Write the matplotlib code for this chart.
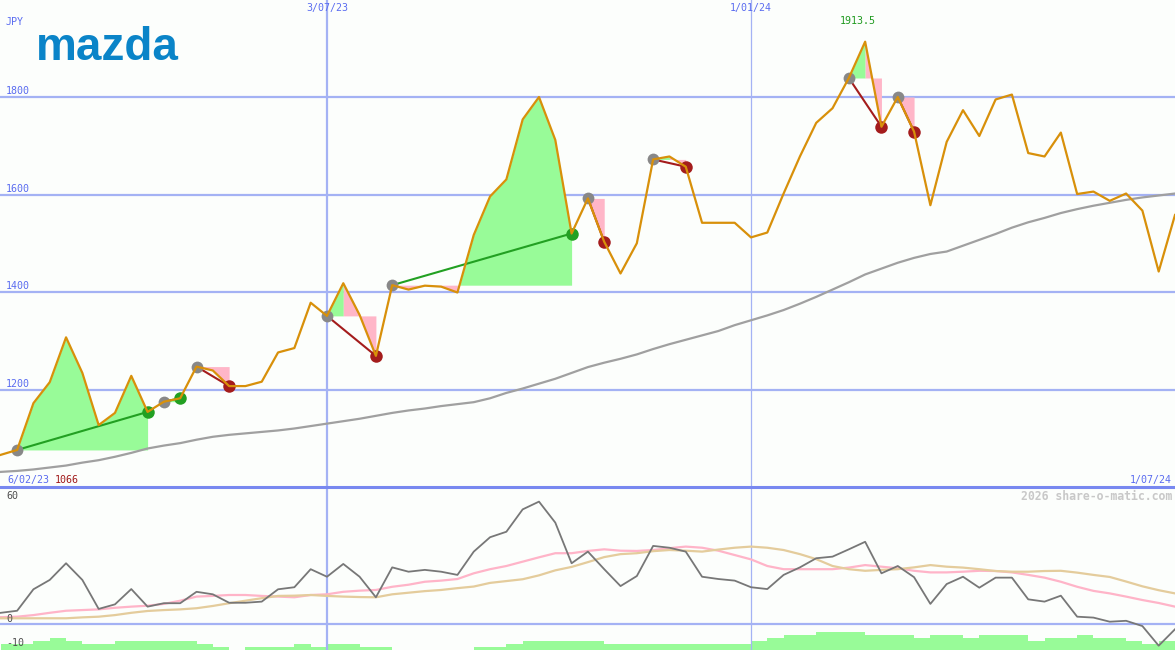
import numpy as np
import matplotlib
matplotlib.use('Agg')
import matplotlib.pyplot as plt
from matplotlib.lines import Line2D
from matplotlib.transforms import blended_transform_factory

# weekly close, JPY (6/02/23 .. 1/07/24)
price = [1066, 1076, 1172, 1215, 1307, 1234, 1127, 1152, 1228, 1154,
         1175, 1182, 1247, 1239, 1207, 1207, 1216, 1276, 1285, 1378,
         1351, 1418, 1353, 1269, 1414, 1405, 1413, 1411, 1399, 1517,
         1596, 1631, 1754, 1800, 1712, 1520, 1592, 1503, 1438, 1500,
         1672, 1678, 1657, 1542, 1542, 1542, 1512, 1522, 1602, 1678,
         1747, 1777, 1839, 1913.5, 1739, 1800, 1729, 1578, 1708, 1773,
         1720, 1795, 1805, 1685, 1678, 1727, 1601, 1606, 1587, 1602,
         1567, 1442, 1558]

# long moving average (grey line)
price_ma = [1031, 1033, 1036, 1040, 1044, 1050, 1055, 1062, 1070, 1079,
            1085, 1090, 1097, 1103, 1107, 1110, 1113, 1116, 1120, 1125,
            1130, 1135, 1140, 1146, 1152, 1157, 1161, 1166, 1170, 1174,
            1182, 1193, 1202, 1212, 1222, 1234, 1246, 1255, 1263, 1272,
            1283, 1293, 1302, 1311, 1320, 1332, 1342, 1352, 1363, 1376,
            1390, 1405, 1420, 1436, 1448, 1460, 1470, 1478, 1483, 1495,
            1507, 1519, 1532, 1543, 1552, 1562, 1570, 1577, 1583, 1589,
            1594, 1598, 1602]

# lower panel
osc = [4.9, 5.8, 15.2, 19.3, 26.6, 19.3, 6.6, 8.6, 15.3, 7.6,
       9.1, 9.1, 14.1, 13.0, 9.3, 9.3, 9.8, 15.2, 16.1, 24.0,
       20.7, 26.3, 20.7, 11.7, 24.8, 22.9, 23.7, 22.9, 21.5, 31.7,
       38.0, 40.4, 50.2, 53.6, 44.4, 26.6, 31.7, 24.0, 16.6, 21.0,
       34.2, 33.4, 31.7, 20.7, 19.7, 19.0, 16.1, 15.3, 21.5, 24.8,
       28.8, 29.5, 32.7, 36.0, 22.2, 25.4, 20.5, 8.8, 17.5, 20.7,
       15.9, 20.3, 20.3, 10.8, 9.8, 12.4, 3.2, 2.8, 1.0, 1.4,
       -0.9, -9.5, -2.3]
osc_fast = [3.0, 3.2, 3.9, 4.9, 5.8, 6.1, 6.4, 7.1, 7.6, 8.0,
            8.8, 10.2, 12.0, 12.3, 12.7, 12.7, 12.3, 12.0, 11.7, 12.7,
            13.0, 14.1, 14.6, 14.9, 16.3, 17.2, 18.5, 19.0, 19.7, 22.2,
            24.0, 25.4, 27.3, 29.2, 31.0, 31.0, 32.0, 32.7, 32.1, 32.0,
            32.4, 33.2, 33.9, 33.4, 32.1, 30.2, 28.3, 25.4, 24.0, 24.0,
            24.0, 24.0, 24.7, 25.8, 25.1, 24.4, 23.3, 22.6, 22.6, 22.9,
            23.3, 23.2, 22.6, 21.5, 20.3, 18.5, 16.3, 14.5, 13.4, 12.0,
            10.5, 9.2, 7.6]
osc_slow = [2.5, 2.5, 2.5, 2.5, 2.5, 2.9, 3.2, 3.9, 4.9, 5.7,
            6.1, 6.4, 6.9, 7.9, 9.1, 10.2, 11.3, 12.3, 12.4, 12.7,
            12.3, 12.0, 11.8, 11.7, 13.0, 13.7, 14.4, 14.9, 15.7, 16.4,
            18.0, 18.8, 19.6, 21.3, 23.5, 25.0, 27.1, 29.3, 30.6, 31.0,
            31.9, 32.4, 32.1, 31.7, 32.6, 33.4, 33.9, 33.4, 32.4, 30.6,
            28.4, 25.4, 24.0, 23.3, 23.7, 24.0, 24.8, 25.8, 25.1, 24.7,
            24.0, 23.2, 22.9, 22.9, 23.2, 23.3, 22.5, 21.5, 20.6, 18.6,
            16.5, 14.8, 13.4]
volume = [2, 2, 3, 4, 3, 2, 2, 3, 3, 3, 3, 3, 2, 1, 0, 1, 1, 1, 2, 1,
          2, 2, 1, 1, 0, 0, 0, 0, 0, 1, 1, 2, 3, 3, 3, 3, 3, 2, 2, 2,
          2, 2, 2, 2, 2, 2, 3, 4, 5, 5, 6, 6, 6, 5, 5, 5, 4, 5, 5, 4,
          5, 5, 5, 3, 4, 4, 5, 4, 4, 3, 2, 3]

# signal runs: (start week, end week, direction)
signals = [(1, 9, 'up'), (10, 11, 'up'), (12, 14, 'down'), (20, 23, 'down'),
           (24, 35, 'up'), (36, 37, 'down'), (40, 42, 'down'),
           (52, 54, 'down'), (55, 56, 'down')]

date_marks = {20: '3/07/23', 46: '1/01/24'}
first_date = '6/02/23'
last_date = '1/07/24'
price_grid = [1200, 1400, 1600, 1800]

BG = '#fcfefc'
GRID = '#a4b2f4'
SEP = '#7888f0'
LBL = '#5a6cf0'
ORANGE = '#d8900a'
FILL_G = '#98fb98'
FILL_P = '#ffb6c8'
MONO = 'DejaVu Sans Mono'

weeks = np.arange(len(price))
W, H = 1175, 650
fig = plt.figure(figsize=(W / 100, H / 100), dpi=100)
fig.patch.set_facecolor(BG)

top_h = 487 / H
ax = fig.add_axes([0, 1 - top_h, 1, top_h])
axv = fig.add_axes([0, 0, 1, 1 - top_h])
ax2 = fig.add_axes([0, 0, 1, 1 - top_h])
for a in (ax, axv, ax2):
    a.set_axis_off()
    a.set_xlim(-0.05, 72.0)
    a.patch.set_visible(False)
ax.set_ylim(1000, 1999)
ax2.set_ylim(-11.39, 60)
axv.set_ylim(0, 54.3)

# grid
for v in price_grid:
    ax.axhline(v, color=GRID, lw=1.6, zorder=1)
    ax.annotate(str(v), xy=(6 / W, v), xycoords=blended_transform_factory(ax.transAxes, ax.transData),
                xytext=(0, 3), textcoords='offset pixels', va='baseline', ha='left',
                fontsize=7.2, family=MONO, color=LBL)
ax2.axhline(0, color=GRID, lw=1.6, zorder=1)
for wk, lab in date_marks.items():
    lw = 1.6 if wk == 20 else 0.9
    ax.axvline(wk, color=GRID, lw=lw, zorder=1)
    ax2.axvline(wk, color=GRID, lw=lw, zorder=1)
    ax.text(wk, 1 - 8.5 / 487, lab, transform=blended_transform_factory(ax.transData, ax.transAxes),
            ha='center', va='center', fontsize=7.2, family=MONO, color=LBL)
fig.add_artist(Line2D([0, 1], [1 - top_h, 1 - top_h], color=SEP, lw=2.2))

# signal fills, links and dots
for s, e, kind in signals:
    lvl = price[s]
    seg = price[s:e + 1]
    if kind == 'up':
        piv = s + int(np.argmin(seg))
        parts = [(s, piv, FILL_P), (piv, e, FILL_G)]
        link, dot = '#22a022', '#22a022'
    else:
        piv = s + int(np.argmax(seg))
        parts = [(s, piv, FILL_G), (piv, e, FILL_P)]
        link, dot = '#a41c1c', '#a41c1c'
    for a, b, c in parts:
        if b > a:
            ax.fill_between(weeks[a:b + 1], price[a:b + 1], lvl, color=c, lw=0, zorder=2)
    ax.plot([s, e], [price[s], price[e]], color=link, lw=1.5, zorder=4)
    ax.plot(s, price[s], 'o', color='#888888', ms=8.5, mew=0, zorder=5)
    ax.plot(e, price[e], 'o', color=dot, ms=9, mew=0, zorder=5)

ax.plot(weeks, price_ma, color='#a0a0a0', lw=1.6, zorder=3)
ax.plot(weeks, price, color=ORANGE, lw=1.6, zorder=6)

# lower panel
axv.bar(weeks[:-1], volume, width=1, align='edge', color=FILL_G, lw=0)
ax2.plot(weeks, osc_fast, color='#ffb4c8', lw=1.6, zorder=3)
ax2.plot(weeks, osc_slow, color='#e4cc9c', lw=1.6, zorder=3)
ax2.plot(weeks, osc, color='#777777', lw=1.3, zorder=4)
bt = blended_transform_factory(ax2.transAxes, ax2.transData)
ax2.annotate('60', xy=(6 / W, 60), xycoords=bt, xytext=(0, -4), textcoords='offset pixels',
             va='top', ha='left', fontsize=7.2, family=MONO, color='#505050')
ax2.annotate('0', xy=(6 / W, 0), xycoords=bt, xytext=(0, 2), textcoords='offset pixels',
             va='baseline', ha='left', fontsize=7.2, family=MONO, color='#505050')
ax2.annotate('-10', xy=(6 / W, -10), xycoords=bt, xytext=(0, 1), textcoords='offset pixels',
             va='baseline', ha='left', fontsize=7.2, family=MONO, color='#505050')

# texts
fig.text(6 / W, 1 - 25 / H, 'JPY', fontsize=7.2, family=MONO, color=LBL, va='baseline')
fig.text(36 / W, 1 - 60 / H, 'mazda', fontsize=33, family='Liberation Sans', weight='bold',
         color='#0a84c8', va='baseline', ha='left')
ax.text(7 / W, 4 / 487, first_date, transform=ax.transAxes, fontsize=7.2, family=MONO,
        color=LBL, va='baseline', ha='left')
ax.text(55 / W, 4 / 487, f'{min(price):g}', transform=ax.transAxes, fontsize=7.2, family=MONO,
        color='#a01818', va='baseline', ha='left')
ax.text(1172 / W, 4 / 487, last_date, transform=ax.transAxes, fontsize=7.2, family=MONO,
        color=LBL, va='baseline', ha='right')
top = int(np.argmax(price))
ax.text(top - 0.45, 1 - 21 / 487, f'{max(price):g}', transform=blended_transform_factory(ax.transData, ax.transAxes),
        fontsize=7.2, family=MONO, color='#1f9a1f', ha='center', va='center')
fig.text(1172 / W, 1 - 496 / H, '2026 share-o-matic.com', fontsize=8.3, family=MONO, weight='bold',
         color='#c8c8c8', ha='right', va='center')

fig.savefig('out.png', dpi=100, facecolor=BG)
